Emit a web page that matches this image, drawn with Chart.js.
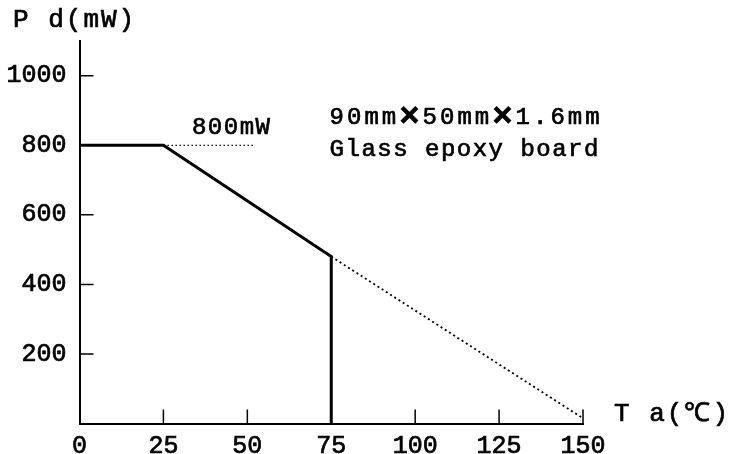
<!DOCTYPE html>
<html>
<head>
<meta charset="utf-8">
<script src="https://cdn.jsdelivr.net/npm/chart.js@4"></script>
<style>
  html, body { margin: 0; padding: 0; background: #fff; }
  #wrap { width: 733px; height: 454px; }
</style>
</head>
<body>
<div id="wrap"><canvas id="c" width="733" height="454"></canvas></div>
<script>
// values
const xTicks = [0, 25, 50, 75, 100, 125, 150];
const yTicks = [200, 400, 600, 800, 1000];
const deratingCurve = [[0, 800], [25, 800], [75, 480], [75, 0]];
const extensionLine = [[75, 480], [150, 15]];
const ratedLine = [[25, 800], [52, 800]];

const FONT = "'Liberation Mono', 'DejaVu Sans Mono', monospace";
const toPts = arr => arr.map(([x, y]) => ({ x, y }));

// texts placed in data units: [runs, x, y, spacing]; a run is [text, size, weight]
const notes = [
  [[['800mW', 24, 'normal']], 33.5, 850, '1.5px'],
  [[['90mm', 24, 'normal'], ['\u00d7', 34, 'bold'], ['50mm', 24, 'normal'], ['\u00d7', 34, 'bold'], ['1.6mm', 24, 'normal']], 74.5, 880, '3px'],
  [[['Glass epoxy board', 24, 'normal']], 74.5, 787, '1.5px']
];

function drawRuns(ctx, runs, px, py, sp) {
  ctx.letterSpacing = sp;
  runs.forEach(([t, size, weight]) => {
    ctx.font = weight + ' ' + size + 'px ' + FONT;
    ctx.fillText(t, px, py);
    ctx.strokeText(t, px, py);
    px += ctx.measureText(t).width;
  });
}

// ticks pointing into the plot, axis titles, notes
const extras = {
  id: 'extras',
  afterDraw(chart) {
    const { ctx, scales: { x, y } } = chart;
    ctx.save();
    ctx.strokeStyle = '#000';
    ctx.lineWidth = 1.5;
    ctx.beginPath();
    yTicks.forEach(v => {
      const py = y.getPixelForValue(v);
      ctx.moveTo(x.left, py); ctx.lineTo(x.left + 14, py);
    });
    xTicks.slice(1).forEach(v => {
      const px = x.getPixelForValue(v);
      ctx.moveTo(px, y.bottom); ctx.lineTo(px, y.bottom - 14);
    });
    ctx.stroke();

    ctx.fillStyle = '#000';
    ctx.lineWidth = 0.7;
    ctx.textBaseline = 'middle';
    ctx.textAlign = 'left';
    notes.forEach(([runs, vx, vy, sp]) => {
      drawRuns(ctx, runs, x.getPixelForValue(vx), y.getPixelForValue(vy), sp);
    });

    drawRuns(ctx, [['P d(mW)', 26, 'normal']], 13, 20, '2px');
    drawRuns(ctx, [['T a(\u2103)', 26, 'normal']], 614, 414, '2px');
    ctx.restore();
  }
};

const tickOpts = {
  color: '#000', textStrokeColor: '#000', textStrokeWidth: 0.7,
  callback: v => String(v), font: { family: FONT, size: 25 }
};

new Chart(document.getElementById('c'), {
  type: 'scatter',
  data: {
    datasets: [
      { data: toPts(deratingCurve), showLine: true, borderColor: '#000', borderWidth: 3, pointRadius: 0, fill: false },
      { data: toPts(extensionLine), showLine: true, borderColor: '#000', borderWidth: 1.8, borderDash: [2, 3], pointRadius: 0, fill: false },
      { data: toPts(ratedLine), showLine: true, borderColor: '#000', borderWidth: 1.3, borderDash: [1.5, 2.5], pointRadius: 0, fill: false }
    ]
  },
  options: {
    responsive: false,
    animation: false,
    layout: { padding: { left: 0, right: 150, top: 41, bottom: 0 } },
    plugins: { legend: { display: false }, tooltip: { enabled: false } },
    scales: {
      x: {
        type: 'linear', min: 0, max: 150,
        afterBuildTicks: s => { s.ticks = xTicks.map(v => ({ value: v })); },
        afterFit: s => { s.height = 30.5; },
        grid: { display: false },
        border: { display: true, color: '#000', width: 2 },
        ticks: { ...tickOpts, padding: 0, maxRotation: 0 }
      },
      y: {
        type: 'linear', min: 0, max: 1100,
        afterBuildTicks: s => { s.ticks = yTicks.map(v => ({ value: v })); },
        afterFit: s => { s.width = 79.5; },
        grid: { display: false },
        border: { display: true, color: '#000', width: 2 },
        ticks: { ...tickOpts, padding: 5 }
      }
    }
  },
  plugins: [extras]
});
</script>
</body>
</html>
